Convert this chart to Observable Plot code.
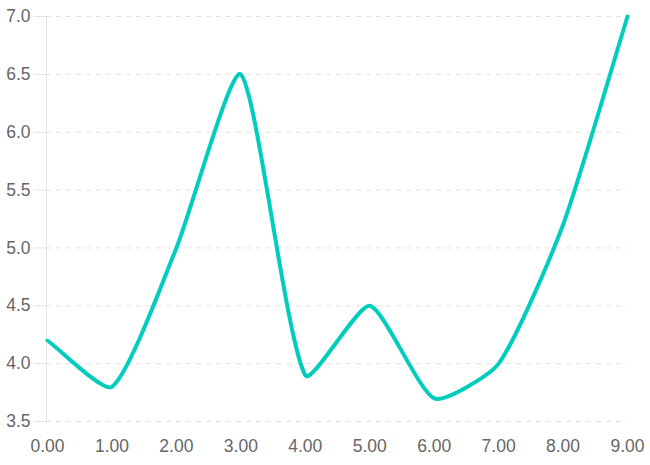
<!DOCTYPE html>
<html>
<head>
<meta charset="utf-8">
<script src="https://cdn.jsdelivr.net/npm/d3@7"></script>
<script src="https://cdn.jsdelivr.net/npm/@observablehq/plot@0.6"></script>
<style>
  html, body { margin: 0; padding: 0; background: #fff; }
  #chart svg { display: block; }
</style>
</head>
<body>
<div id="chart"></div>
<script>
const xValues = [0, 1, 2, 3, 4, 5, 6, 7, 8, 9];
const yValues = [4.2, 3.8, 5.0, 6.5, 3.9, 4.5, 3.7, 4.0, 5.2, 7.0];
const yTicks = [3.5, 4.0, 4.5, 5.0, 5.5, 6.0, 6.5, 7.0];
const xTicks = [0, 1, 2, 3, 4, 5, 6, 7, 8, 9];

const data = xValues.map((x, i) => ({x, y: yValues[i]}));

// Tension spline (Chart.js-style), computed in pixel space
function tensionSpline(tension) {
  return function (context) {
    let pts = [];
    return {
      areaStart() {}, areaEnd() {},
      lineStart() { pts = []; },
      point(x, y) { pts.push({x: +x, y: +y}); },
      lineEnd() {
        const n = pts.length;
        if (!n) return;
        context.moveTo(pts[0].x, pts[0].y);
        if (n === 1) return;
        const cps = pts.map((cur, i) => {
          const prev = pts[Math.max(i - 1, 0)];
          const next = pts[Math.min(i + 1, n - 1)];
          const d01 = Math.hypot(cur.x - prev.x, cur.y - prev.y);
          const d12 = Math.hypot(next.x - cur.x, next.y - cur.y);
          let s01 = d01 / (d01 + d12), s12 = d12 / (d01 + d12);
          if (isNaN(s01)) s01 = 0;
          if (isNaN(s12)) s12 = 0;
          const fa = tension * s01, fb = tension * s12;
          return {
            px: cur.x - fa * (next.x - prev.x), py: cur.y - fa * (next.y - prev.y),
            nx: cur.x + fb * (next.x - prev.x), ny: cur.y + fb * (next.y - prev.y)
          };
        });
        for (let i = 0; i < n - 1; i++) {
          context.bezierCurveTo(cps[i].nx, cps[i].ny, cps[i + 1].px, cps[i + 1].py, pts[i + 1].x, pts[i + 1].y);
        }
      }
    };
  };
}

const chart = Plot.plot({
  width: 650,
  height: 465,
  marginLeft: 46,
  marginRight: 23,
  marginTop: 16,
  marginBottom: 44,
  style: {
    fontFamily: "'Liberation Sans', Arial, Helvetica, sans-serif",
    fontSize: "17.5px",
    color: "#666",
    background: "#fff"
  },
  x: {domain: [0, 9], range: [47, 627], label: null},
  y: {domain: [3.5, 7], label: null},
  marks: [
    Plot.gridY(yTicks, {stroke: "#e2e2e2", strokeOpacity: 1, strokeWidth: 1, strokeDasharray: "5,5"}),
    Plot.axisY(yTicks, {
      tickSize: 12, tickPadding: 4,
      tickFormat: d => d.toFixed(1),
      stroke: "#e2e2e2", strokeOpacity: 1,
      fill: "#666", fontSize: 17.5, label: null
    }),
    Plot.frame({anchor: "left", stroke: "#e2e2e2", strokeOpacity: 1}),
    Plot.axisX(xTicks, {
      tickSize: 0, tickPadding: 18,
      tickFormat: d => d.toFixed(2),
      fill: "#666", fontSize: 17.5, label: null
    }),
    Plot.line(data, {x: "x", y: "y", curve: tensionSpline(0.2), stroke: "#00cdbe", strokeWidth: 4})
  ]
});
document.getElementById("chart").appendChild(chart);
</script>
</body>
</html>
